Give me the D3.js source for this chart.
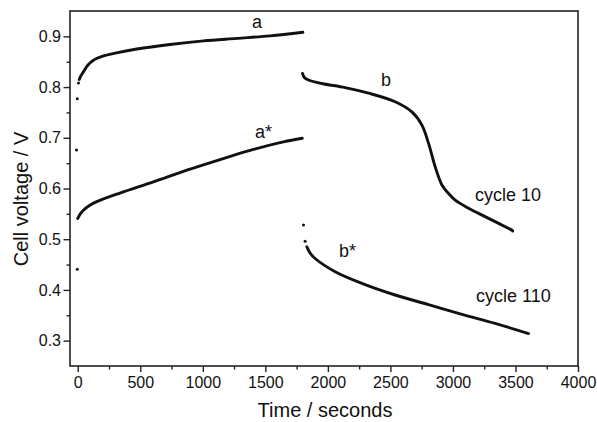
<!DOCTYPE html>
<html>
<head>
<meta charset="utf-8">
<script src="https://cdn.jsdelivr.net/npm/d3@7"></script>
<style>
  html, body { margin: 0; padding: 0; background: #fff; }
  svg { display: block; font-family: "Liberation Sans", Arial, sans-serif; }
</style>
</head>
<body>
<svg id="chart" width="597" height="422"></svg>
<script>
// ---- data (time in seconds, cell voltage in V) ----
const xTicks = [0, 500, 1000, 1500, 2000, 2500, 3000, 3500, 4000];
const yTicks = [0.3, 0.4, 0.5, 0.6, 0.7, 0.8, 0.9];

// charge curve, cycle 10 (a)
const aTime = [12, 25, 45, 80, 125, 200, 300, 472, 738, 1005, 1272, 1538, 1800];
const aVolt = [0.815, 0.822, 0.830, 0.843, 0.853, 0.861, 0.867, 0.875, 0.884, 0.891, 0.896, 0.901, 0.908];
const aDotTime = [-10, -4, 6];
const aDotVolt = [0.676, 0.777, 0.808];

// charge curve, cycle 110 (a*)
const asTime = [0, 20, 45, 90, 152, 338, 605, 872, 1138, 1405, 1645, 1795];
const asVolt = [0.541, 0.550, 0.557, 0.566, 0.574, 0.591, 0.613, 0.636, 0.657, 0.677, 0.692, 0.699];
const asDotTime = [-4];
const asDotVolt = [0.441];

// discharge curve, cycle 10 (b)
const bTime = [1797, 1812, 1845, 1952, 2138, 2325, 2538, 2672, 2752, 2805, 2858, 2912, 2965, 3018, 3125, 3205, 3472];
const bVolt = [0.827, 0.819, 0.814, 0.807, 0.799, 0.788, 0.771, 0.751, 0.725, 0.689, 0.643, 0.607, 0.590, 0.577, 0.561, 0.551, 0.518];

// discharge curve, cycle 110 (b*)
const bsTime = [1832, 1860, 1898, 2058, 2272, 2538, 2805, 3072, 3338, 3605];
const bsVolt = [0.485, 0.472, 0.462, 0.436, 0.413, 0.390, 0.371, 0.352, 0.334, 0.314];
const bsDotTime = [1805, 1818];
const bsDotVolt = [0.528, 0.496];

// ---- layout ----
const svg = d3.select("#chart");
const L = 70, R = 578, T = 11, B = 366;
const x = d3.scaleLinear().domain([-62, 4000]).range([L, R]);
const y = d3.scaleLinear().domain([0.25, 0.95]).range([B, T]);
const ink = "#111";

// frame
svg.append("rect").attr("x", L).attr("y", T).attr("width", R - L).attr("height", B - T)
  .attr("fill", "none").attr("stroke", "#222").attr("stroke-width", 1.6);

// x axis
const xAxis = d3.axisBottom(x).tickValues(xTicks).tickSize(6).tickPadding(5).tickFormat(d3.format("d"));
const gx = svg.append("g").attr("transform", `translate(0,${B})`).call(xAxis);
gx.select(".domain").remove();
const xMinor = d3.axisBottom(x).tickValues(d3.range(250, 4000, 500)).tickSize(3.5).tickFormat("");
const gxm = svg.append("g").attr("transform", `translate(0,${B})`).call(xMinor);
gxm.select(".domain").remove();

// y axis
const yAxis = d3.axisLeft(y).tickValues(yTicks).tickSize(6.5).tickPadding(2.5).tickFormat(d3.format(".1f"));
const gy = svg.append("g").attr("transform", `translate(${L},0)`).call(yAxis);
gy.select(".domain").remove();
const yMinor = d3.axisLeft(y).tickValues([0.35, 0.45, 0.55, 0.65, 0.75, 0.85]).tickSize(3.5).tickFormat("");
const gym = svg.append("g").attr("transform", `translate(${L},0)`).call(yMinor);
gym.select(".domain").remove();

svg.selectAll(".tick line").attr("stroke", "#222").attr("stroke-width", 1.4);
svg.selectAll(".tick text").attr("fill", ink).style("font-size", "16px")
  .style("font-family", "'Liberation Sans', Arial, sans-serif");

// axis titles
svg.append("text").attr("x", 325).attr("y", 417).attr("text-anchor", "middle")
  .style("font-size", "20px").attr("fill", ink).text("Time / seconds");
svg.append("text").attr("transform", "rotate(-90)").attr("x", -199).attr("y", 27.5)
  .attr("text-anchor", "middle").style("font-size", "20px").attr("fill", ink).text("Cell voltage / V");

// curves
const line = d3.line().x(d => x(d[0])).y(d => y(d[1])).curve(d3.curveCatmullRom.alpha(0.5));
const zip = (t, v) => t.map((d, i) => [d, v[i]]);
const curves = [zip(aTime, aVolt), zip(asTime, asVolt), zip(bTime, bVolt), zip(bsTime, bsVolt)];
svg.append("g").selectAll("path").data(curves).join("path")
  .attr("d", line).attr("fill", "none").attr("stroke", ink)
  .attr("stroke-width", 2.9).attr("stroke-linecap", "round");

const dots = [].concat(zip(aDotTime, aDotVolt), zip(asDotTime, asDotVolt), zip(bsDotTime, bsDotVolt),
  [[bTime[bTime.length - 1] + 6, bVolt[bVolt.length - 1] - 0.002]]);
svg.append("g").selectAll("circle").data(dots).join("circle")
  .attr("cx", d => x(d[0])).attr("cy", d => y(d[1])).attr("r", 1.5).attr("fill", ink);

// annotations
const ann = [
  { t: "a", x: 257, y: 28, a: "middle" },
  { t: "a*", x: 255, y: 138, a: "start" },
  { t: "b", x: 386, y: 86, a: "middle" },
  { t: "cycle 10", x: 475, y: 201, a: "start" },
  { t: "b*", x: 339, y: 257, a: "start" },
  { t: "cycle 110", x: 476, y: 302, a: "start" }
];
svg.append("g").selectAll("text").data(ann).join("text")
  .attr("x", d => d.x).attr("y", d => d.y).attr("text-anchor", d => d.a)
  .style("font-size", "18px").attr("fill", ink).text(d => d.t);
</script>
</body>
</html>
